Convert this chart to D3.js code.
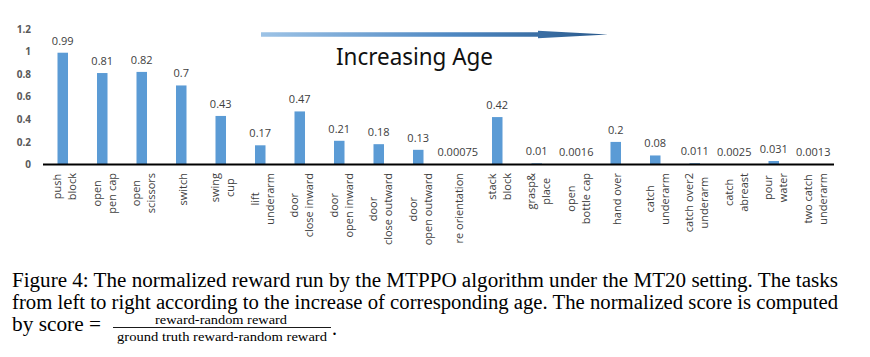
<!DOCTYPE html>
<html>
<head>
<meta charset="utf-8">
<script src="https://cdn.jsdelivr.net/npm/d3@7/dist/d3.min.js"></script>
<style>
html,body{margin:0;padding:0;background:#fff;}
svg{display:block;}
</style>
</head>
<body>
<svg id="chart" width="870" height="357"></svg>
<script>
// ---- data ----
const categories = [
  ["push","block"], ["open","pen cap"], ["open","scissors"], ["switch"],
  ["swing","cup"], ["lift","underarm"], ["door","close inward"], ["door","open inward"],
  ["door","close outward"], ["door","open outward"], ["re orientation"], ["stack","block"],
  ["grasp&","place"], ["open","bottle cap"], ["hand over"], ["catch","underarm"],
  ["catch over2","underarm"], ["catch","abreast"], ["pour","water"], ["two catch","underarm"]
];
const values = [0.99, 0.81, 0.82, 0.7, 0.43, 0.17, 0.47, 0.21, 0.18, 0.13,
                0.00075, 0.42, 0.01, 0.0016, 0.2, 0.08, 0.011, 0.0025, 0.031, 0.0013];
const valueLabels = ["0.99","0.81","0.82","0.7","0.43","0.17","0.47","0.21","0.18","0.13",
                     "0.00075","0.42","0.01","0.0016","0.2","0.08","0.011","0.0025","0.031","0.0013"];
const yTicks = [0, 0.2, 0.4, 0.6, 0.8, 1, 1.2];
const yTickLabels = ["0","0.2","0.4","0.6","0.8","1","1.2"];
const arrowTitle = "Increasing Age";
const captionLines = [
  "Figure 4: The normalized reward run by the MTPPO algorithm under the MT20 setting. The tasks",
  "from left to right according to the increase of corresponding age. The normalized score is computed"
];
const captionPrefix = "by score =";
const fracNum = "reward-random reward";
const fracDen = "ground truth reward-random reward";

// ---- chart ----
const svg = d3.select("#chart");
const idx = d3.range(categories.length);
const x = d3.scaleBand().domain(idx).range([43, 833]).paddingInner(0.734).paddingOuter(0.367);
const y = d3.scaleLinear().domain([0, 1.2]).range([164.5, 29]);

// arrow gradient
const defs = svg.append("defs");
const grad = defs.append("linearGradient").attr("id","ag").attr("gradientUnits","userSpaceOnUse")
  .attr("x1",261).attr("x2",608).attr("y1",0).attr("y2",0);
grad.append("stop").attr("offset","0%").attr("stop-color","#9dc3e6");
grad.append("stop").attr("offset","55%").attr("stop-color","#4f88c2");
grad.append("stop").attr("offset","100%").attr("stop-color","#2a5a8c");
svg.append("path")
  .attr("d","M261,32.3 L538,32.3 L538,30.8 L608,34.5 L538,38.2 L538,36.7 L261,36.7 Z")
  .attr("fill","url(#ag)");
svg.append("text").attr("x",336).attr("y",65)
  .attr("font-family","'Noto Sans', 'Open Sans', sans-serif").attr("font-size",24)
  .attr("fill","#111").attr("textLength",157).attr("lengthAdjust","spacingAndGlyphs")
  .text(arrowTitle);

// y axis
const yAxis = d3.axisLeft(y).tickValues(yTicks).tickSize(0).tickPadding(12)
  .tickFormat((d,i)=>yTickLabels[i]);
const gy = svg.append("g").attr("transform","translate(43,0)").call(yAxis);
gy.select(".domain").remove();
gy.selectAll("text").attr("font-family","'Open Sans', sans-serif").attr("font-size",10)
  .attr("font-weight","bold").attr("fill","#595959");

// bars
svg.append("g").selectAll("rect").data(values).join("rect")
  .attr("x",(d,i)=>x(i)).attr("width",x.bandwidth())
  .attr("y",d=>y(d)).attr("height",d=>y(0)-y(d))
  .attr("fill","#5b9bd5");

// axis line
svg.append("line").attr("x1",43).attr("x2",834).attr("y1",y(0)).attr("y2",y(0))
  .attr("stroke","#000").attr("stroke-width",2);

// value labels
svg.append("g").selectAll("text").data(values).join("text")
  .attr("x",(d,i)=>x(i)+x.bandwidth()/2).attr("y",d=>y(d)-8)
  .attr("text-anchor","middle").attr("font-family","'Open Sans', sans-serif")
  .attr("font-size",11).attr("fill","#404040")
  .text((d,i)=>valueLabels[i]);

// category labels (rotated, two lines, centred block)
const catG = svg.append("g").attr("font-family","'Open Sans', sans-serif")
  .attr("font-size",11).attr("fill","#404040");
categories.forEach((lines,i)=>{
  const cx = x(i)+x.bandwidth()/2;
  const g = catG.append("g");
  const texts = lines.map((t,j)=>{
    const off = lines.length===1 ? 1 : (j===0 ? -6 : 9);
    return g.append("text").attr("text-anchor","middle").attr("dominant-baseline","central")
      .attr("data-x",cx+off).text(t);
  });
  const maxLen = d3.max(texts,t=>t.node().getComputedTextLength());
  const cy = 173 + maxLen/2;
  texts.forEach(t=>{
    const tx = +t.attr("data-x");
    t.attr("transform",`translate(${tx},${cy}) rotate(-90)`);
  });
});

// caption
const cap = svg.append("g").attr("font-family","'Liberation Serif', 'Times New Roman', serif").attr("fill","#000");
captionLines.forEach((t,i)=>{
  cap.append("text").attr("x",12).attr("y",286.5+i*22).attr("font-size",20)
    .attr("textLength",826).attr("lengthAdjust","spacingAndGlyphs").text(t);
});
cap.append("text").attr("x",12).attr("y",331).attr("font-size",20)
  .attr("textLength",89).attr("lengthAdjust","spacingAndGlyphs").text(captionPrefix);
cap.append("text").attr("x",155).attr("y",324).attr("font-size",12.5)
  .attr("textLength",132).attr("lengthAdjust","spacingAndGlyphs").text(fracNum);
cap.append("line").attr("x1",113).attr("x2",331).attr("y1",327.5).attr("y2",327.5)
  .attr("stroke","#000").attr("stroke-width",0.9);
cap.append("text").attr("x",117).attr("y",340.5).attr("font-size",13.5)
  .attr("textLength",210).attr("lengthAdjust","spacingAndGlyphs").text(fracDen);
cap.append("text").attr("x",332).attr("y",335).attr("font-size",20).text(".");
</script>
</body>
</html>
